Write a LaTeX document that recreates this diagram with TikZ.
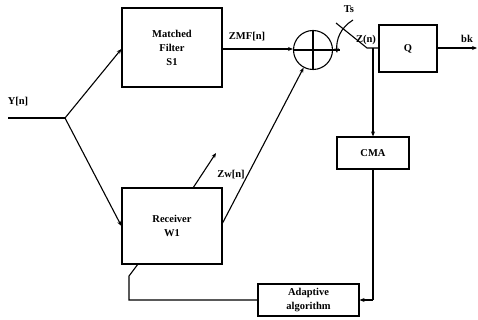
\documentclass[tikz,border=0pt]{standalone}
\usepackage{fontspec}
\setmainfont{Liberation Serif}
\usetikzlibrary{arrows.meta}
\begin{document}
\begin{tikzpicture}[x=1pt,y=-1pt,
  every node/.style={font=\bfseries\fontsize{10.5}{14}\selectfont},
  blk/.style={draw,line width=1.2pt,inner sep=0pt,align=center},
  lbl/.style={inner sep=0pt},
  ln/.style={line width=1.1pt},
  arr/.style={ln,-{Stealth[length=5pt,width=4pt]}}]
\useasboundingbox (0,0) rectangle (478,320);
% blocks
\node[blk,minimum width=100pt,minimum height=79pt] (mf) at (172,47.5) {Matched\\Filter\\S1};
\node[blk,minimum width=100pt,minimum height=76pt] (rx) at (172,226) {Receiver\\W1};
\node[blk,minimum width=58pt,minimum height=47pt] (q) at (408,48.5) {Q};
\node[blk,minimum width=72pt,minimum height=32pt] (cma) at (373,153) {CMA};
\node[blk,minimum width=101pt,minimum height=32pt] (ad) at (308.5,300) {Adaptive\\algorithm};
\node[draw,circle,line width=1.1pt,minimum size=39pt,inner sep=0pt] (sum) at (313,50) {};
\draw[ln] (sum.north) -- (sum.south) (sum.west) -- (sum.east);
% coordinates
\coordinate (yin) at (8,118);
\coordinate (j) at (65,118);
\coordinate (mfin) at (mf.west |- 0,49);
\coordinate (so) at (340,50);
\coordinate (sw1) at (336,23);
\coordinate (sw2) at (367,48);
\coordinate (zn) at (373,48);
\coordinate (out) at (477,48);
\coordinate (v1) at (193,188);
\coordinate (v2) at (216,153);
\coordinate (f0) at (138,264);
\coordinate (f1) at (129,276);
\coordinate (f2) at (129,300);
\coordinate (c1) at (373,300);
\coordinate (ts0) at (353,20);
\coordinate (ts1) at (337,53);
% labels
\node[lbl] (ly) at (18,102) {Y[n]};
\node[lbl] (lzmf) at (247,37) {ZMF[n]};
\node[lbl] (lzw) at (231,175) {Zw[n]};
\node[lbl] (lzn) at (366,40) {Z(n)};
\node[lbl] (lts) at (349,9) {Ts};
\node[lbl] (lb) at (467,39) {bk};
% connectors
\draw[ln] (yin) -- (j);
\draw[arr] (j) -- (mfin);
\draw[arr] (j) -- (rx.west);
\draw[arr] (mfin -| mf.east) -- (sum.west |- 0,49);
\draw[arr] (rx.east |- 0,223) -- (sum.242);
\draw[arr] (v1) -- (v2);
\draw[ln] (sum.east) -- (so);
\draw[ln] (sw1) -- (sw2) -- (q.west |- sw2);
\draw[arr] (zn) -- (cma.north);
\draw[arr] (q.east |- out) -- (out);
\draw[ln] (cma.south) -- (c1);
\draw[arr] (c1) -- (ad.east);
\draw[ln] (f0) -- (f1) -- (f2) -- (ad.west);
\draw[ln,-{Stealth[length=5pt,width=4pt]}] (ts0) .. controls (340,28) and (336,40) .. (ts1);
\end{tikzpicture}
\end{document}
